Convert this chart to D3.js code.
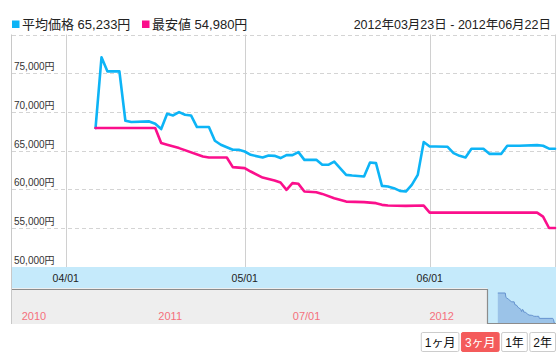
<!DOCTYPE html>
<html>
<head>
<meta charset="utf-8">
<script src="https://cdn.jsdelivr.net/npm/d3@7"></script>
<style>
  body { margin: 0; background: #fff; }
  svg { display: block; font-family: "Liberation Sans", Arial, "Noto Sans CJK JP", sans-serif; }
</style>
</head>
<body>
<svg id="chart" width="560" height="362"></svg>
<script>
// Average price, daily points where the line changes direction
var avgPrice = [
  ["2012-04-06", 67900], ["2012-04-07", 77050], ["2012-04-08", 75230], ["2012-04-10", 75230],
  ["2012-04-11", 68850], ["2012-04-12", 68680], ["2012-04-15", 68760], ["2012-04-16", 68460],
  ["2012-04-17", 67770], ["2012-04-18", 69750], ["2012-04-19", 69530], ["2012-04-20", 69970],
  ["2012-04-21", 69620], ["2012-04-22", 69530], ["2012-04-23", 68030], ["2012-04-25", 68030],
  ["2012-04-26", 66260], ["2012-04-27", 65740], ["2012-04-29", 65090], ["2012-04-30", 65090],
  ["2012-05-01", 64870], ["2012-05-02", 64440], ["2012-05-04", 64090], ["2012-05-05", 64350],
  ["2012-05-06", 64310], ["2012-05-07", 64020], ["2012-05-08", 64400], ["2012-05-09", 64400],
  ["2012-05-10", 64790], ["2012-05-11", 63790], ["2012-05-13", 63790], ["2012-05-14", 63150],
  ["2012-05-15", 63150], ["2012-05-16", 63570], ["2012-05-18", 61850], ["2012-05-19", 61760],
  ["2012-05-21", 61630], ["2012-05-22", 63440], ["2012-05-23", 63370], ["2012-05-24", 60430],
  ["2012-05-25", 60340], ["2012-05-26", 60130], ["2012-05-27", 59780], ["2012-05-28", 59690],
  ["2012-05-29", 60560], ["2012-05-30", 61850], ["2012-05-31", 66090], ["2012-06-01", 65520],
  ["2012-06-02", 65520], ["2012-06-04", 65480], ["2012-06-05", 64660], ["2012-06-06", 64310],
  ["2012-06-07", 64090], ["2012-06-08", 65220], ["2012-06-10", 65220], ["2012-06-11", 64570],
  ["2012-06-13", 64570], ["2012-06-14", 65610], ["2012-06-16", 65610], ["2012-06-19", 65700],
  ["2012-06-20", 65610], ["2012-06-21", 65233], ["2012-06-22", 65233]
];

// Lowest price
var minPrice = [
  ["2012-04-06", 67900], ["2012-04-16", 67900], ["2012-04-17", 65960], ["2012-04-18", 65740],
  ["2012-04-20", 65310], ["2012-04-24", 64220], ["2012-04-25", 64090], ["2012-04-28", 64090],
  ["2012-04-29", 62850], ["2012-05-01", 62720], ["2012-05-02", 62280], ["2012-05-04", 61500],
  ["2012-05-06", 61120], ["2012-05-07", 60860], ["2012-05-08", 59910], ["2012-05-09", 60780],
  ["2012-05-10", 60690], ["2012-05-11", 59690], ["2012-05-13", 59610], ["2012-05-14", 59390],
  ["2012-05-16", 58830], ["2012-05-18", 58390], ["2012-05-21", 58320], ["2012-05-23", 58190],
  ["2012-05-24", 57970], ["2012-05-25", 57880], ["2012-05-28", 57840], ["2012-05-31", 57880],
  ["2012-06-01", 56970], ["2012-06-19", 56970], ["2012-06-20", 56450], ["2012-06-21", 54980],
  ["2012-06-22", 54980]
];

var seriesNames = ["平均価格", "最安値"];
var seriesColors = ["#0db4f6", "#fb0f8c"];
var rangeLabel = "2012年03月23日 - 2012年06月22日";
var rangeStart = "2012-03-23", rangeEnd = "2012-06-22";
var yTicks = [50000, 55000, 60000, 65000, 70000, 75000];
var xTicks = ["2012-04-01", "2012-05-01", "2012-06-01"];
var navStart = "2010-06-22";
var navTicks = ["2010-07-01", "2011-01-01", "2011-07-01", "2012-01-01"];
var navTickLabels = ["2010", "2011", "07/01", "2012"];
var buttons = ["1ヶ月", "3ヶ月", "1年", "2年"];
var selectedButton = 1;

var parse = d3.timeParse("%Y-%m-%d");
var fmt = d3.format(",");
var monthDay = d3.timeFormat("%m/%d");
var svg = d3.select("#chart");

var plot = { left: 12, right: 555, top: 34.5, bottom: 266.5 };
var band = { top: 267, bottom: 288 };
var nav = { top: 289, bottom: 324 };

var x = d3.scaleTime()
  .domain([parse(rangeStart), parse(rangeEnd)])
  .range([plot.left, plot.right]);
var y = d3.scaleLinear()
  .domain([50000, 80000])
  .range([plot.bottom, plot.top]);

function crisp(v) { return Math.round(v) + 0.5; }

// Horizontal dashed gridlines (top one is the plot's border)
svg.append("g").selectAll("line")
  .data(yTicks.slice(1).concat([80000]))
  .enter().append("line")
    .attr("x1", plot.left).attr("x2", plot.right)
    .attr("y1", function(d) { return crisp(y(d)); })
    .attr("y2", function(d) { return crisp(y(d)); })
    .attr("stroke", "#d4d4d4")
    .attr("stroke-dasharray", "4,3");

// Vertical gridlines at month starts
svg.append("g").selectAll("line")
  .data(xTicks)
  .enter().append("line")
    .attr("x1", function(d) { return crisp(x(parse(d))); })
    .attr("x2", function(d) { return crisp(x(parse(d))); })
    .attr("y1", plot.top).attr("y2", band.top)
    .attr("stroke", "#d0d0d0");

// right border of the plot
svg.append("line")
  .attr("x1", plot.right + 0.5).attr("x2", plot.right + 0.5)
  .attr("y1", plot.top).attr("y2", band.top)
  .attr("stroke", "#d0d0d0");

// y labels sit just above their gridline
svg.append("g").selectAll("text")
  .data(yTicks)
  .enter().append("text")
    .attr("x", plot.left + 2)
    .attr("y", function(d) { return y(d) - 3; })
    .attr("font-size", 10)
    .attr("fill", "#333")
    .text(function(d) { return fmt(d) + "円"; });

// Lines
var line = d3.line()
  .x(function(d) { return x(parse(d[0])); })
  .y(function(d) { return y(d[1]); });

[avgPrice, minPrice].forEach(function(s, i) {
  svg.append("path")
    .datum(s)
    .attr("d", line)
    .attr("fill", "none")
    .attr("stroke", seriesColors[i])
    .attr("stroke-width", 2.6)
    .attr("stroke-linejoin", "round")
    .attr("stroke-linecap", "round");
});

// X axis band
svg.append("rect")
  .attr("x", plot.left).attr("y", band.top)
  .attr("width", plot.right - plot.left + 1).attr("height", band.bottom - band.top)
  .attr("fill", "#c5eafb");

svg.append("g").selectAll("text")
  .data(xTicks)
  .enter().append("text")
    .attr("x", function(d) { return x(parse(d)); })
    .attr("y", band.top + 15)
    .attr("text-anchor", "middle")
    .attr("font-size", 10.5)
    .attr("fill", "#222")
    .text(function(d) { return monthDay(parse(d)); });

// Navigator
var navX = d3.scaleTime()
  .domain([parse(navStart), parse(rangeEnd)])
  .range([plot.left, plot.right]);
var navY = d3.scaleLinear()
  .domain(d3.extent(minPrice, function(d) { return d[1]; }))
  .range([nav.bottom - 1, nav.top + 4]);

svg.append("rect")
  .attr("x", plot.left).attr("y", band.bottom)
  .attr("width", plot.right - plot.left + 1).attr("height", nav.bottom - band.bottom)
  .attr("fill", "#eeeeee");

var selX0 = navX(parse(rangeStart));
svg.append("rect")
  .attr("x", selX0).attr("y", band.bottom)
  .attr("width", plot.right + 1 - selX0).attr("height", nav.bottom - band.bottom)
  .attr("fill", "#c5eafb");

var navArea = d3.area()
  .x(function(d) { return navX(parse(d[0])); })
  .y0(nav.bottom)
  .y1(function(d) { return navY(d[1]); });
var navLine = d3.line()
  .x(function(d) { return navX(parse(d[0])); })
  .y(function(d) { return navY(d[1]); });

svg.append("path").datum(minPrice)
  .attr("d", navArea)
  .attr("fill", "#9bc3e8");
svg.append("path").datum(minPrice)
  .attr("d", navLine)
  .attr("fill", "none")
  .attr("stroke", "#6593cf")
  .attr("stroke-width", 1);

// navigator outline around the selected range
svg.append("path")
  .attr("d", "M" + plot.left + "," + (nav.top + 0.5) +
             "H" + crisp(selX0) + "V" + (nav.bottom - 0.5) + "H" + (plot.right + 1))
  .attr("fill", "none")
  .attr("stroke", "#8c8c8c")
  .attr("stroke-width", 1.2);

svg.append("g").selectAll("text")
  .data(navTicks)
  .enter().append("text")
    .attr("x", function(d) { return navX(parse(d)) + 3; })
    .attr("y", 320)
    .attr("font-size", 11)
    .attr("fill", "#f5707c")
    .text(function(d, i) { return navTickLabels[i]; });

// left border runs down through band and navigator
svg.append("line")
  .attr("x1", plot.left - 0.5).attr("x2", plot.left - 0.5)
  .attr("y1", plot.top).attr("y2", nav.bottom)
  .attr("stroke", "#c8c8c8");

// Legend
var legendX = [12, 142];
seriesNames.forEach(function(name, i) {
  var s = i === 0 ? avgPrice : minPrice;
  svg.append("rect")
    .attr("x", legendX[i]).attr("y", 20.5)
    .attr("width", 7.5).attr("height", 7.5)
    .attr("fill", seriesColors[i]);
  svg.append("text")
    .attr("x", legendX[i] + 10).attr("y", 29)
    .attr("font-size", 13)
    .attr("fill", "#222")
    .text(name + " " + fmt(s[s.length - 1][1]) + "円");
});

svg.append("text")
  .attr("x", 551).attr("y", 29)
  .attr("text-anchor", "end")
  .attr("font-size", 12.5)
  .attr("fill", "#222")
  .text(rangeLabel);

// Range buttons, right aligned
var btnG = svg.append("g");
var bx = plot.right + 1;
buttons.slice().reverse().forEach(function(label, ri) {
  var i = buttons.length - 1 - ri;
  var g = btnG.append("g");
  var t = g.append("text")
    .attr("y", 347)
    .attr("font-size", 12)
    .attr("text-anchor", "middle")
    .attr("fill", i === selectedButton ? "#fff" : "#111")
    .text(label);
  var w = t.node().getComputedTextLength() + 8;
  bx -= w;
  g.insert("rect", "text")
    .attr("x", bx + 0.5).attr("y", 332.5)
    .attr("width", w - 1).attr("height", 19)
    .attr("rx", 1.5)
    .attr("fill", i === selectedButton ? "#f45b5b" : "#fff")
    .attr("stroke", i === selectedButton ? "#f45b5b" : "#ccc");
  t.attr("x", bx + w / 2);
  bx -= 1.5;
});
</script>
</body>
</html>
